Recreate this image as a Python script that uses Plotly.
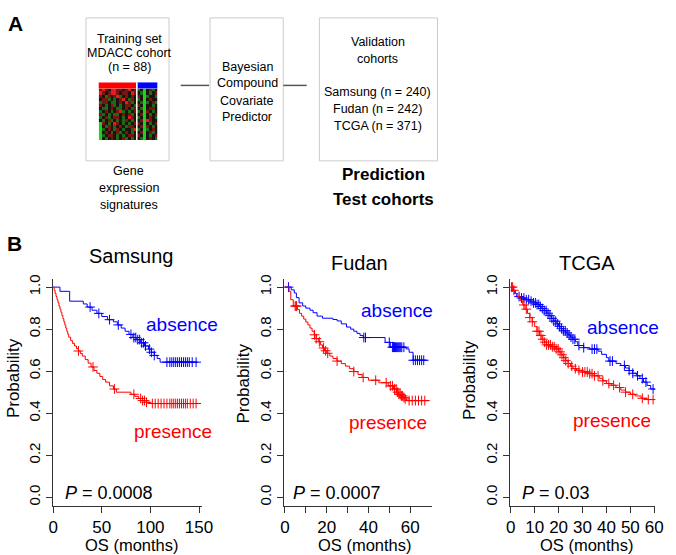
import numpy as np
import plotly.graph_objects as go

W, H = 676, 555

# ---------------- data ----------------
# Samsung cohort (OS months, survival probability)
sam_abs_t = [0, 7, 17, 31, 35, 40, 45, 50, 56, 62, 66, 70, 74, 78, 82, 86, 90, 94, 98, 101, 104, 107, 110, 149]
sam_abs_s = [1.0, .98, .933, .92, .905, .89, .875, .86, .845, .835, .82, .805, .79, .775, .76, .75, .735, .72, .705, .69, .675, .66, .643, .643]
sam_abs_c = [38, 47, 58, 67, 80, 83, 85, 87, 89, 91, 93, 95, 99, 101, 104, 117, 120, 122, 124, 126, 128, 130, 132, 134, 136, 138, 140, 143, 147]
sam_pre_t = [0, 1, 2, 3, 4, 5, 6, 7, 8, 9, 10, 11, 12, 13, 14, 15, 16, 18, 20, 22, 24, 26, 28, 30, 33, 36, 39, 42, 45, 48, 51, 54, 58, 62, 65, 80, 84, 88, 92, 96, 100, 149]
sam_pre_s = [1, .985, .97, .955, .94, .925, .91, .895, .88, .865, .85, .835, .82, .805, .79, .776, .762, .745, .732, .72, .708, .696, .684, .672, .655, .638, .62, .603, .59, .575, .56, .548, .53, .515, .5, .49, .48, .47, .46, .452, .446, .446]
sam_pre_c = [26, 41, 63, 83, 90, 92, 94, 96, 102, 105, 108, 111, 114, 117, 120, 122, 124, 126, 128, 130, 132, 134, 136, 138, 141, 144, 147]

# Fudan cohort
fud_abs_t = [0, 3, 4.5, 5.5, 6.8, 8.5, 10, 12, 13.5, 15.4, 18, 23, 25, 27, 29.5, 31.5, 33, 34.5, 36, 37.5, 48, 50.5, 58, 59.5, 61.4, 68]
fud_abs_s = [1, .987, .972, .95, .925, .91, .9, .89, .878, .862, .852, .846, .839, .825, .81, .8, .79, .78, .77, .76, .737, .714, .706, .69, .652, .652]
fud_abs_c = [1.7, 37.8, 38.6, 50, 51.5, 52, 52.5, 53, 53.5, 54, 54.5, 55, 55.5, 56, 57, 61.5, 62.5, 63.5, 64.5, 65.5, 66.5]
fud_pre_t = [0, 2, 2.8, 4, 6, 7, 8, 9, 10, 11, 12, 13, 14, 15, 16, 17, 18, 19, 20, 21.5, 23, 25, 27, 29, 31, 33, 35, 37, 40, 45, 49.5, 52, 53.5, 54.5, 55.5, 56.5, 57.5, 58.3, 69]
fud_pre_s = [1, .98, .94, .91, .893, .875, .862, .848, .834, .82, .805, .79, .773, .755, .74, .725, .71, .697, .685, .672, .66, .648, .636, .624, .612, .598, .584, .57, .557, .545, .53, .515, .5, .49, .482, .475, .468, .46, .46]
fud_pre_c = [4.9, 5.3, 5.6, 14.2, 15, 16.5, 18.5, 19.5, 20.5, 25, 33, 37.5, 43.5, 48.5, 50.5, 51.5, 52.5, 53.3, 54, 54.6, 55.2, 55.8, 56.4, 57, 57.6, 59.5, 61, 62.5, 64, 65.5, 67]

# TCGA cohort
tcg_abs_t = [0, 0.5, 1.5, 2.5, 4, 6, 8, 9.5, 11, 12, 13, 14, 15, 16, 17, 18, 19, 20, 21, 22, 23, 24, 25, 26, 27, 28, 30.5, 33, 36.5, 38, 40, 41, 44, 46, 48, 49.5, 51, 52.5, 54, 55.5, 57, 58.5, 60.5]
tcg_abs_s = [1, .985, .97, .955, .948, .94, .933, .925, .917, .908, .898, .888, .876, .864, .851, .838, .825, .813, .802, .792, .782, .772, .762, .752, .74, .722, .712, .705, .695, .68, .664, .648, .637, .627, .615, .603, .59, .578, .565, .548, .532, .515, .51]
tcg_abs_c = [3.5, 4.5, 5.5, 6.5, 7.5, 8.5, 9.5, 10.3, 11, 11.7, 12.4, 13.2, 14, 14.8, 15.6, 16.4, 17.2, 18, 18.8, 19.6, 20.4, 21.2, 22, 22.8, 23.6, 24.4, 25.2, 26, 26.8, 28.5, 30.5, 34, 35, 36, 41.5, 42.5, 47.5, 49.5, 51, 53, 55, 56.5, 59.5]
tcg_pre_t = [0, 1.2, 2, 3, 4, 5, 6, 7, 8, 9, 10, 11, 12, 13, 14, 15, 17, 19, 20, 21, 22, 23, 24, 25, 26, 27.5, 30, 33, 35, 37, 38.5, 40, 42, 44, 46, 48, 50, 52, 54.5, 57, 60.5]
tcg_pre_s = [1, .985, .97, .955, .935, .915, .895, .875, .855, .835, .812, .79, .77, .752, .738, .725, .716, .706, .692, .678, .664, .65, .636, .624, .612, .604, .596, .588, .578, .566, .554, .541, .533, .522, .51, .5, .49, .482, .471, .465, .463]
tcg_pre_c = [0.3, 0.8, 1.3, 5.5, 6.5, 8, 9, 11, 11.8, 12.6, 13.4, 14.2, 15, 15.8, 16.6, 17.4, 18.2, 19, 19.8, 20.6, 21.4, 22.2, 23, 24, 25.5, 27, 28.5, 30, 31, 32, 33, 34, 35, 36.5, 38.5, 41, 43, 45.5, 48, 51, 55, 57.5, 59.5]

cohorts = ["Samsung", "Fudan", "TCGA"]
p_values = ["0.0008", "0.0007", "0.03"]
cohort_sizes = ["Samsung (n = 240)", "Fudan (n = 242)", "TCGA (n = 371)"]

# gene expression signature heatmap (R=high, G=low), 13 presence + 7 absence columns
heat_rows = [
    "rRr.RRrr.rR.r" + "g.G.rg.",
    "Rr.rRRr.rr.Rr" + ".gG.g.r",
    "r.gr.rRg.r.r." + "r.Gg..g",
    ".rrg.g.rR.gr." + "g.G.r..",
    "grr.gg.r.Rrg." + ".gGg.rg",
    "r.g.rg.g.rr.g" + "r.G..g.",
    ".gg.r.gg.r.gr" + ".gG.rr.",
    "g.r.g.rRg.g.r" + "g.Gr.g.",
    "rg.g.gg.r.rg." + ".rG.g.r",
    "g.rg.rr.g.Rr." + "g.G.r.g",
    ".g.rg.g.gr.g." + ".rGRr..",
    "Gr.g.Rr.g.g.r" + "r.G.g.r",
    "G.gr.g.r.grr." + ".rGr.g.",
    "Gg.r.gr.g..gR" + "g.Gg.r.",
    "G.r.g.rg.r.g." + ".rG.rg.",
    "Gg.rr.g.g.rr." + "r.G.g.r",
    "G.g.r.g.rg.g." + ".gG.r.g",
]
level = {"R": 2, "r": 1, ".": 0, "g": -1, "G": -2}
heat_z = [[level[c] for c in row] for row in heat_rows]

# ---------------- helpers ----------------
# positions below are screen pixels of the 676x555 page
def px(x):
    return x / W

def py(y):
    return 1 - y / H

def step_at(ts, ss, t):
    i = np.searchsorted(ts, t, side="right") - 1
    return ss[max(i, 0)]

FONT = "Liberation Sans, Arial, sans-serif"
BLUE, RED = "#0000ff", "#ff0000"

fig = go.Figure()

panels = [
    dict(abs_t=sam_abs_t, abs_s=sam_abs_s, abs_c=sam_abs_c, pre_t=sam_pre_t, pre_s=sam_pre_s, pre_c=sam_pre_c,
         dom=(49.3, 201.7), rng=[0, 153], tickvals=[0, 50, 100, 150], ticktext=["0", "50", "100", "150"],
         title_xy=(130, 254), prob_x=8, prob_y=377, os_x=130, pval_x=59,
         abs_xy=(181, 323), pre_xy=(172, 431)),
    dict(abs_t=fud_abs_t, abs_s=fud_abs_s, abs_c=fud_abs_c, pre_t=fud_pre_t, pre_s=fud_pre_s, pre_c=fud_pre_c,
         dom=(285.7, 437), rng=[-0.47, 70.3], tickvals=[0, 10, 20, 30, 40, 50, 60],
         ticktext=["0", "", "20", "", "40", "", "60"],
         title_xy=(363, 261), prob_x=244, prob_y=382, os_x=369, pval_x=293,
         abs_xy=(402, 309), pre_xy=(392, 422)),
    dict(abs_t=tcg_abs_t, abs_s=tcg_abs_s, abs_c=tcg_abs_c, pre_t=tcg_pre_t, pre_s=tcg_pre_s, pre_c=tcg_pre_c,
         dom=(517.7, 666), rng=[-0.12, 60.4], tickvals=[0, 10, 20, 30, 40, 50, 60],
         ticktext=["0", "10", "20", "30", "40", "50", "60"],
         title_xy=(596, 261), prob_x=476, prob_y=379, os_x=596, pval_x=527,
         abs_xy=(633, 326), pre_xy=(622, 420)),
]

annotations = []
for k, p in enumerate(panels):
    xa = "x" if k == 0 else f"x{k+1}"
    ya = "y" if k == 0 else f"y{k+1}"
    for t, s, c, col in [(p["abs_t"], p["abs_s"], p["abs_c"], BLUE), (p["pre_t"], p["pre_s"], p["pre_c"], RED)]:
        fig.add_trace(go.Scatter(x=t, y=s, mode="lines", line=dict(color=col, width=1, shape="hv"),
                                 xaxis=xa, yaxis=ya, showlegend=False, hoverinfo="skip"))
        cy = [step_at(np.array(t), s, v) for v in c]
        fig.add_trace(go.Scatter(x=c, y=cy, mode="markers",
                                 marker=dict(symbol="cross-thin", size=7, line=dict(color=col, width=1)),
                                 xaxis=xa, yaxis=ya, showlegend=False, hoverinfo="skip"))
    axis_common = dict(showgrid=False, zeroline=False, showline=True, linecolor="#333333", linewidth=1,
                       ticks="outside", ticklen=6, tickcolor="#333333", mirror=False)
    fig.layout[("xaxis" if k == 0 else f"xaxis{k+1}")] = dict(
        domain=[px(p["dom"][0]), px(p["dom"][1])], range=p["rng"], anchor=ya,
        tickvals=p["tickvals"], ticktext=p["ticktext"], tickfont=dict(size=17, family=FONT, color="black"),
        **axis_common)
    fig.layout[("yaxis" if k == 0 else f"yaxis{k+1}")] = dict(
        domain=[py(505.3), py(276.7)], range=[-0.04, 1.04], anchor=xa,
        tickvals=[0, 0.2, 0.4, 0.6, 0.8, 1.0], ticktext=["0.0", "0.2", "0.4", "0.6", "0.8", "1.0"],
        tickangle=-90, tickfont=dict(size=15, family=FONT, color="black"), **axis_common)

    annotations += [
        dict(text=cohorts[k], x=px(p["title_xy"][0]), y=py(p["title_xy"][1]), font=dict(size=20)),
        dict(text="Probability", x=px(p["prob_x"]), y=py(p["prob_y"]), textangle=-90, font=dict(size=17)),
        dict(text="OS (months)", x=px(p["os_x"]), y=py(545), font=dict(size=16.5)),
        dict(text=f"<i>P</i> = {p_values[k]}", x=px(p["pval_x"]), y=py(493), xanchor="left", font=dict(size=18)),
        dict(text="absence", x=px(p["abs_xy"][0]), y=py(p["abs_xy"][1]), font=dict(size=19, color=BLUE)),
        dict(text="presence", x=px(p["pre_xy"][0]), y=py(p["pre_xy"][1]), font=dict(size=19, color=RED)),
    ]

# heatmap in panel A
fig.add_trace(go.Heatmap(z=heat_z, xaxis="x4", yaxis="y4", zmin=-2, zmax=2, showscale=False, hoverinfo="skip",
                         colorscale=[[0, "#22d022"], [0.25, "#1c6a14"], [0.5, "#181410"],
                                     [0.75, "#7a1410"], [1, "#e61c1c"]]))
fig.update_layout(
    xaxis4=dict(domain=[px(96), px(156)], visible=False, anchor="y4"),
    yaxis4=dict(domain=[py(137), py(85)], visible=False, autorange="reversed", anchor="x4"),
)

shapes = []
box_line = dict(color="#cccccc", width=1)
for x0, x1 in [(83, 168), (210, 285), (322, 443)]:
    shapes.append(dict(type="rect", xref="paper", yref="paper", x0=px(x0), x1=px(x1), y0=py(158), y1=py(14),
                       line=box_line))
for x0, x1 in [(180, 209), (285, 309)]:
    shapes.append(dict(type="line", xref="paper", yref="paper", x0=px(x0), x1=px(x1), y0=py(82), y1=py(82),
                       line=dict(color="#555555", width=1.5)))
shapes += [
    dict(type="rect", xref="paper", yref="paper", x0=px(96), x1=px(134.5), y0=py(85), y1=py(79),
         fillcolor=RED, line=dict(width=0)),
    dict(type="rect", xref="paper", yref="paper", x0=px(135.5), x1=px(156), y0=py(85), y1=py(79),
         fillcolor=BLUE, line=dict(width=0)),
    dict(type="line", xref="paper", yref="paper", x0=px(135), x1=px(135), y0=py(137), y1=py(79),
         line=dict(color="white", width=1.5)),
]

panel_a = [
    ("Training set", 128, 35), ("MDACC cohort", 128, 49), ("(n = 88)", 128, 63),
    ("Gene", 127, 168), ("expression", 127, 185), ("signatures", 127, 202),
    ("Bayesian", 248, 63), ("Compound", 248, 80), ("Covariate", 248, 98), ("Predictor", 248, 114),
    ("Validation", 382, 38), ("cohorts", 382, 55),
    (cohort_sizes[0], 382, 89), (cohort_sizes[1], 382, 106), (cohort_sizes[2], 382, 123),
]
for txt, x, y in panel_a:
    annotations.append(dict(text=txt, x=px(x), y=py(y), font=dict(size=12.5)))
annotations += [
    dict(text="<b>Prediction</b>", x=px(388), y=py(172), font=dict(size=17)),
    dict(text="<b>Test cohorts</b>", x=px(388), y=py(197), font=dict(size=17)),
    dict(text="<b>A</b>", x=px(1), y=py(20), xanchor="left", font=dict(size=21)),
    dict(text="<b>B</b>", x=px(0), y=py(241), xanchor="left", font=dict(size=21)),
]
for a in annotations:
    a.setdefault("xref", "paper")
    a.setdefault("yref", "paper")
    a.setdefault("showarrow", False)
    a.setdefault("xanchor", "center")
    a.setdefault("yanchor", "middle")
    a["font"].setdefault("family", FONT)
    a["font"].setdefault("color", "black")

fig.update_layout(width=W, height=H, autosize=False, margin=dict(l=0, r=0, t=0, b=0),
                  paper_bgcolor="white", plot_bgcolor="white", showlegend=False,
                  font=dict(family=FONT, color="black"),
                  annotations=annotations, shapes=shapes)

# drop the default 8px page margin so the figure fills the window, and hide the toolbar
fig.write_html("out.html", config={"displayModeBar": False},
               post_script="document.body.style.margin='0';document.body.style.overflow='hidden';")
